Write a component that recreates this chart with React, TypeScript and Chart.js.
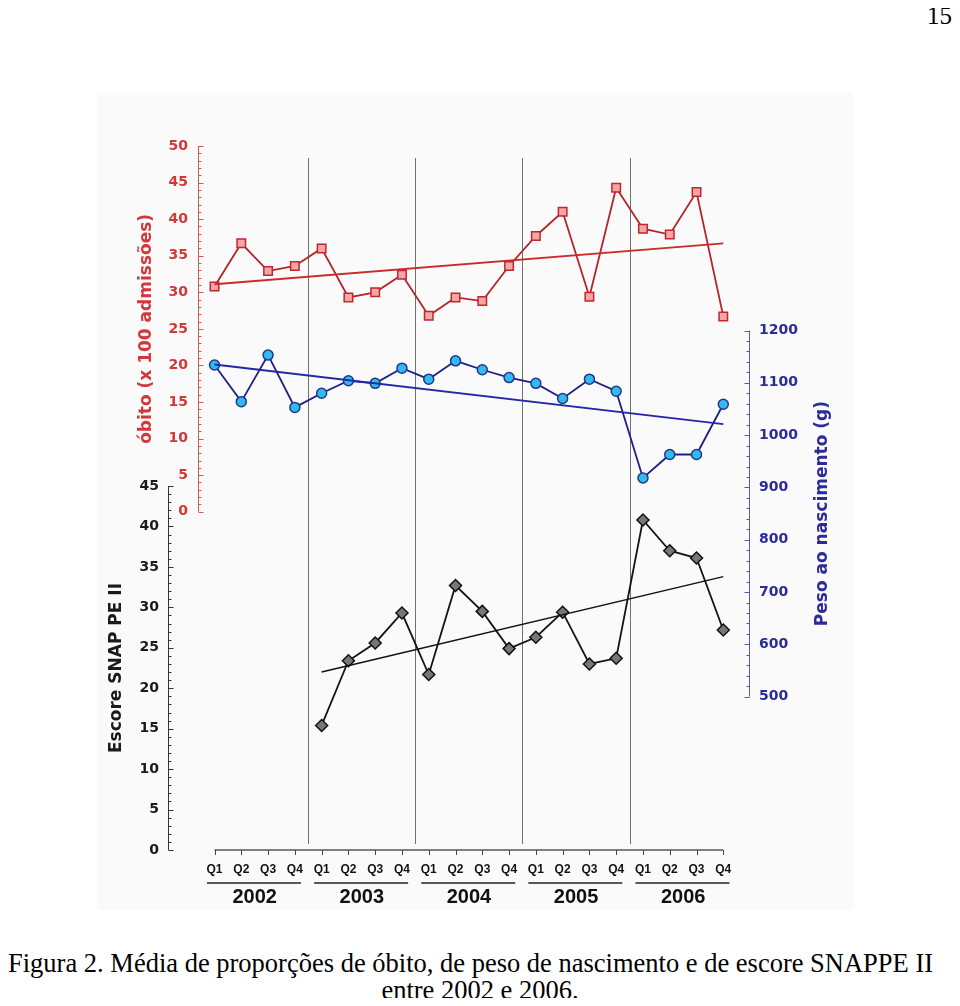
import React, { useEffect, useRef } from "react";
import { Chart, registerables } from "chart.js";
Chart.register(...registerables);

// ---- Data ----
const quarterLabels = ["Q1", "Q2", "Q3", "Q4"];
const years = ["2002", "2003", "2004", "2005", "2006"];
const obito = [30.8, 36.7, 32.9, 33.6, 36.0, 29.3, 30.0, 32.4, 26.8, 29.3, 28.8, 33.6, 37.7, 41.0, 29.4, 44.3, 38.7, 37.9, 43.7, 26.7];
const peso = [1134, 1064, 1153, 1053, 1080, 1104, 1099, 1128, 1107, 1142, 1125, 1110, 1099, 1070, 1107, 1084, 918, 963, 963, 1059];
const snap = [null, null, null, null, 15.4, 23.4, 25.6, 29.3, 21.7, 32.7, 29.5, 24.9, 26.3, 29.4, 23.0, 23.7, 40.8, 37.0, 36.1, 27.2];
const obitoTrend = [31.1, 36.7];
const pesoTrend = [1135, 1021];
const snapTrend = [22.0, 33.8];
const trendFrom = [0, 0, 4];
const trendTo = [19, 19, 19];
const obitoTicks = [0, 5, 10, 15, 20, 25, 30, 35, 40, 45, 50];
const snapTicks = [0, 5, 10, 15, 20, 25, 30, 35, 40, 45];
const pesoTicks = [500, 600, 700, 800, 900, 1000, 1100, 1200];

const RED = "#d2373a";
const BLUE = "#2b2b9c";
const BLACK = "#1a1a1a";

function band(lo: number, hi: number, fLo: number, fHi: number) {
  const per = (hi - lo) / (fHi - fLo);
  const min = lo - fLo * per;
  return { min, max: min + per };
}

const redRange = band(0, 50, 0.4805, 1);
const blueRange = band(500, 1200, 0.2178, 0.7379);
const blackRange = band(0, 45, 0, 0.517);

const tickFont = { family: "'DejaVu Sans', sans-serif", size: 14, weight: "bold" as const };

function drawYAxis(ctx: CanvasRenderingContext2D, scale: any, xPix: number, lo: number, hi: number, minor: number, major: number, dir: number, color: string) {
  const y0 = scale.getPixelForValue(lo);
  const y1 = scale.getPixelForValue(hi);
  ctx.save();
  ctx.strokeStyle = color;
  ctx.lineWidth = 1;
  ctx.beginPath();
  ctx.moveTo(xPix, y0);
  ctx.lineTo(xPix, y1);
  ctx.stroke();
  const n = Math.round((hi - lo) / minor);
  for (let i = 0; i <= n; i++) {
    const v = lo + i * minor;
    const isMajor = Math.abs(v / major - Math.round(v / major)) < 1e-6;
    const len = isMajor ? 5 : 3;
    const y = Math.round(scale.getPixelForValue(v)) + 0.5;
    ctx.beginPath();
    ctx.moveTo(xPix, y);
    ctx.lineTo(xPix + dir * len, y);
    ctx.stroke();
  }
  ctx.restore();
}

function vText(ctx: CanvasRenderingContext2D, text: string, x: number, y: number, color: string) {
  ctx.save();
  ctx.translate(x, y);
  ctx.rotate(-Math.PI / 2);
  ctx.textAlign = "center";
  ctx.textBaseline = "middle";
  ctx.fillStyle = color;
  ctx.font = "bold 17px 'DejaVu Sans', sans-serif";
  ctx.fillText(text, 0, 0);
  ctx.restore();
}

const decorPlugin = {
  id: "decor",
  beforeDraw(chart: any) {
    const ctx = chart.ctx;
    ctx.save();
    ctx.fillStyle = "#fafafa";
    ctx.fillRect(89, 85, 756, 817);
    ctx.restore();
  },
  beforeDatasetsDraw(chart: any) {
    const { ctx, chartArea, scales } = chart;
    const x = scales.x;
    ctx.save();
    ctx.strokeStyle = "#707070";
    ctx.lineWidth = 1;
    for (let k = 1; k < years.length; k++) {
      const px = Math.round(x.getPixelForValue(4 * k - 0.5)) + 0.5;
      ctx.beginPath();
      ctx.moveTo(px, chartArea.top + 12);
      ctx.lineTo(px, chartArea.bottom - 6);
      ctx.stroke();
    }
    ctx.restore();
  },
  afterDraw(chart: any) {
    const { ctx, chartArea, scales } = chart;
    const x = scales.x;
    // x axis line and ticks
    ctx.save();
    ctx.strokeStyle = "#808080";
    ctx.lineWidth = 2;
    const yb = chartArea.bottom;
    ctx.beginPath();
    ctx.moveTo(x.getPixelForValue(0), yb);
    ctx.lineTo(x.getPixelForValue(obito.length - 1), yb);
    ctx.stroke();
    ctx.strokeStyle = "#444";
    ctx.lineWidth = 1;
    for (let i = 0; i < obito.length; i++) {
      const px = Math.round(x.getPixelForValue(i)) + 0.5;
      ctx.beginPath();
      ctx.moveTo(px, yb);
      ctx.lineTo(px, yb + 5);
      ctx.stroke();
    }
    // year underlines
    const uy = scales.x2.top + 3;
    ctx.strokeStyle = "#222";
    ctx.lineWidth = 1.5;
    for (let k = 0; k < years.length; k++) {
      ctx.beginPath();
      ctx.moveTo(x.getPixelForValue(4 * k - 0.28), uy);
      ctx.lineTo(x.getPixelForValue(4 * k + 3.23), uy);
      ctx.stroke();
    }
    ctx.restore();
    // y axes
    const redX = Math.round(chartArea.left) + 0.5;
    const blackX = Math.round(scales.yBlack.right) + 0.5;
    const blueX = Math.round(chartArea.right) + 0.5;
    drawYAxis(ctx, scales.yRed, redX, 0, 50, 1, 5, 1, "#cf5a5a");
    drawYAxis(ctx, scales.yBlack, blackX, 0, 45, 1, 5, 1, "#333333");
    drawYAxis(ctx, scales.yBlue, blueX, 500, 1200, 20, 100, -1, "#5a5aa8");
    // titles
    const yr = scales.yRed;
    vText(ctx, "óbito (x 100 admissões)", redX - 52, (yr.getPixelForValue(0) + yr.getPixelForValue(50)) / 2, RED);
    const yk = scales.yBlack;
    vText(ctx, "Escore SNAP PE II", blackX - 52, (yk.getPixelForValue(0) + yk.getPixelForValue(45)) / 2, BLACK);
    const yu = scales.yBlue;
    vText(ctx, "Peso ao nascimento (g)", blueX + 73, (yu.getPixelForValue(500) + yu.getPixelForValue(1200)) / 2, BLUE);
  },
};

function pts(values: (number | null)[]) {
  const out: { x: number; y: number }[] = [];
  values.forEach((v, i) => {
    if (v !== null) out.push({ x: i, y: v });
  });
  return out;
}

function trend(vals: number[], k: number) {
  return [
    { x: trendFrom[k], y: vals[0] },
    { x: trendTo[k], y: vals[1] },
  ];
}

const plainNum = (v: any) => String(v);

export default function App() {
  const ref = useRef<HTMLCanvasElement>(null);
  useEffect(() => {
    if (!ref.current) return;
    const chart = new Chart(ref.current, {
      type: "line",
      data: {
        datasets: [
          {
            data: trend(obitoTrend, 0),
            yAxisID: "yRed",
            xAxisID: "x",
            borderColor: "#cc2a2a",
            borderWidth: 1.8,
            pointRadius: 0,
          },
          {
            data: trend(pesoTrend, 1),
            yAxisID: "yBlue",
            xAxisID: "x",
            borderColor: "#2626a6",
            borderWidth: 1.8,
            pointRadius: 0,
          },
          {
            data: trend(snapTrend, 2),
            yAxisID: "yBlack",
            xAxisID: "x",
            borderColor: "#111",
            borderWidth: 1.5,
            pointRadius: 0,
          },
          {
            data: pts(obito),
            yAxisID: "yRed",
            xAxisID: "x",
            borderColor: "#b5242a",
            borderWidth: 1.8,
            pointStyle: "rect",
            pointRadius: 6,
            pointBackgroundColor: "#f4a6a6",
            pointBorderColor: "#c0262c",
            pointBorderWidth: 1.5,
          },
          {
            data: pts(peso),
            yAxisID: "yBlue",
            xAxisID: "x",
            borderColor: "#1f1f86",
            borderWidth: 1.8,
            pointStyle: "circle",
            pointRadius: 5,
            pointBackgroundColor: "#35b8ee",
            pointBorderColor: "#1d3a8a",
            pointBorderWidth: 1.5,
          },
          {
            data: pts(snap),
            yAxisID: "yBlack",
            xAxisID: "x",
            borderColor: "#141414",
            borderWidth: 1.8,
            pointStyle: "rectRot",
            pointRadius: 6,
            pointBackgroundColor: "#777777",
            pointBorderColor: "#111111",
            pointBorderWidth: 1.5,
          },
        ],
      },
      options: {
        animation: false,
        responsive: false,
        devicePixelRatio: 1,
        layout: { padding: { top: 138, bottom: 8, left: 0, right: 0 } },
        plugins: { legend: { display: false }, tooltip: { enabled: false } },
        elements: { line: { tension: 0 } },
        scales: {
          x: {
            type: "linear",
            axis: "x",
            position: "bottom",
            weight: 0,
            min: -0.617,
            max: 19.96,
            afterBuildTicks: (s: any) => {
              s.ticks = obito.map((_, i) => ({ value: i }));
            },
            afterFit: (s: any) => {
              s.height = 30;
            },
            grid: { display: false, drawTicks: false },
            border: { display: false },
            ticks: {
              autoSkip: false,
              maxRotation: 0,
              padding: 12,
              color: "#111",
              font: { family: "'Liberation Sans', Arial, sans-serif", size: 12, weight: "bold" },
              callback: (v: any) => quarterLabels[Math.round(Number(v)) % 4],
            },
          },
          x2: {
            type: "linear",
            axis: "x",
            position: "bottom",
            weight: 1,
            min: -0.617,
            max: 19.96,
            afterBuildTicks: (s: any) => {
              s.ticks = years.map((_, k) => ({ value: 4 * k + 1.5 }));
            },
            afterFit: (s: any) => {
              s.height = 40;
            },
            grid: { display: false, drawTicks: false },
            border: { display: false },
            ticks: {
              autoSkip: false,
              maxRotation: 0,
              padding: 5,
              color: "#111",
              font: { family: "'Liberation Sans', Arial, sans-serif", size: 20, weight: "bold" },
              callback: (_v: any, i: number) => years[i],
            },
          },
          yRed: {
            type: "linear",
            axis: "y",
            position: "left",
            weight: 0,
            min: redRange.min,
            max: redRange.max,
            afterBuildTicks: (s: any) => {
              s.ticks = obitoTicks.map((v) => ({ value: v }));
            },
            afterFit: (s: any) => {
              s.width = 30;
            },
            grid: { display: false, drawTicks: false },
            border: { display: false },
            ticks: { padding: 10, color: RED, font: tickFont, callback: plainNum },
          },
          yBlack: {
            type: "linear",
            axis: "y",
            position: "left",
            weight: 10,
            min: blackRange.min,
            max: blackRange.max,
            afterBuildTicks: (s: any) => {
              s.ticks = snapTicks.map((v) => ({ value: v }));
            },
            afterFit: (s: any) => {
              s.width = 160;
            },
            grid: { display: false, drawTicks: false },
            border: { display: false },
            ticks: { padding: 9, color: BLACK, font: tickFont, callback: plainNum },
          },
          yBlue: {
            type: "linear",
            axis: "y",
            position: "right",
            min: blueRange.min,
            max: blueRange.max,
            afterBuildTicks: (s: any) => {
              s.ticks = pesoTicks.map((v) => ({ value: v }));
            },
            afterFit: (s: any) => {
              s.width = 203;
            },
            grid: { display: false, drawTicks: false },
            border: { display: false },
            ticks: { padding: 10, color: BLUE, font: tickFont, callback: plainNum },
          },
        },
      },
      plugins: [decorPlugin],
    } as any);
    return () => chart.destroy();
  }, []);

  const serif = "'Liberation Serif', 'Times New Roman', serif";
  const capStyle: React.CSSProperties = {
    position: "absolute",
    fontFamily: serif,
    fontSize: 26.5,
    lineHeight: "27px",
    whiteSpace: "nowrap",
  };
  return (
    <div style={{ position: "relative", width: 944, height: 998, marginBottom: -8, overflow: "hidden" }}>
      <div style={{ position: "absolute", top: 0, right: 0, fontFamily: serif, fontSize: 25, lineHeight: "16px" }}>15</div>
      <canvas ref={ref} width={944} height={920} style={{ position: "absolute", left: 0, top: 0, width: 944, height: 920 }} />
      <div style={{ ...capStyle, top: 942, left: 0 }}>
        Figura 2. Média de proporções de óbito, de peso de nascimento e de escore SNAPPE II
      </div>
      <div style={{ ...capStyle, top: 969, left: 0, width: 944, textAlign: "center" }}>entre 2002 e 2006.</div>
    </div>
  );
}
